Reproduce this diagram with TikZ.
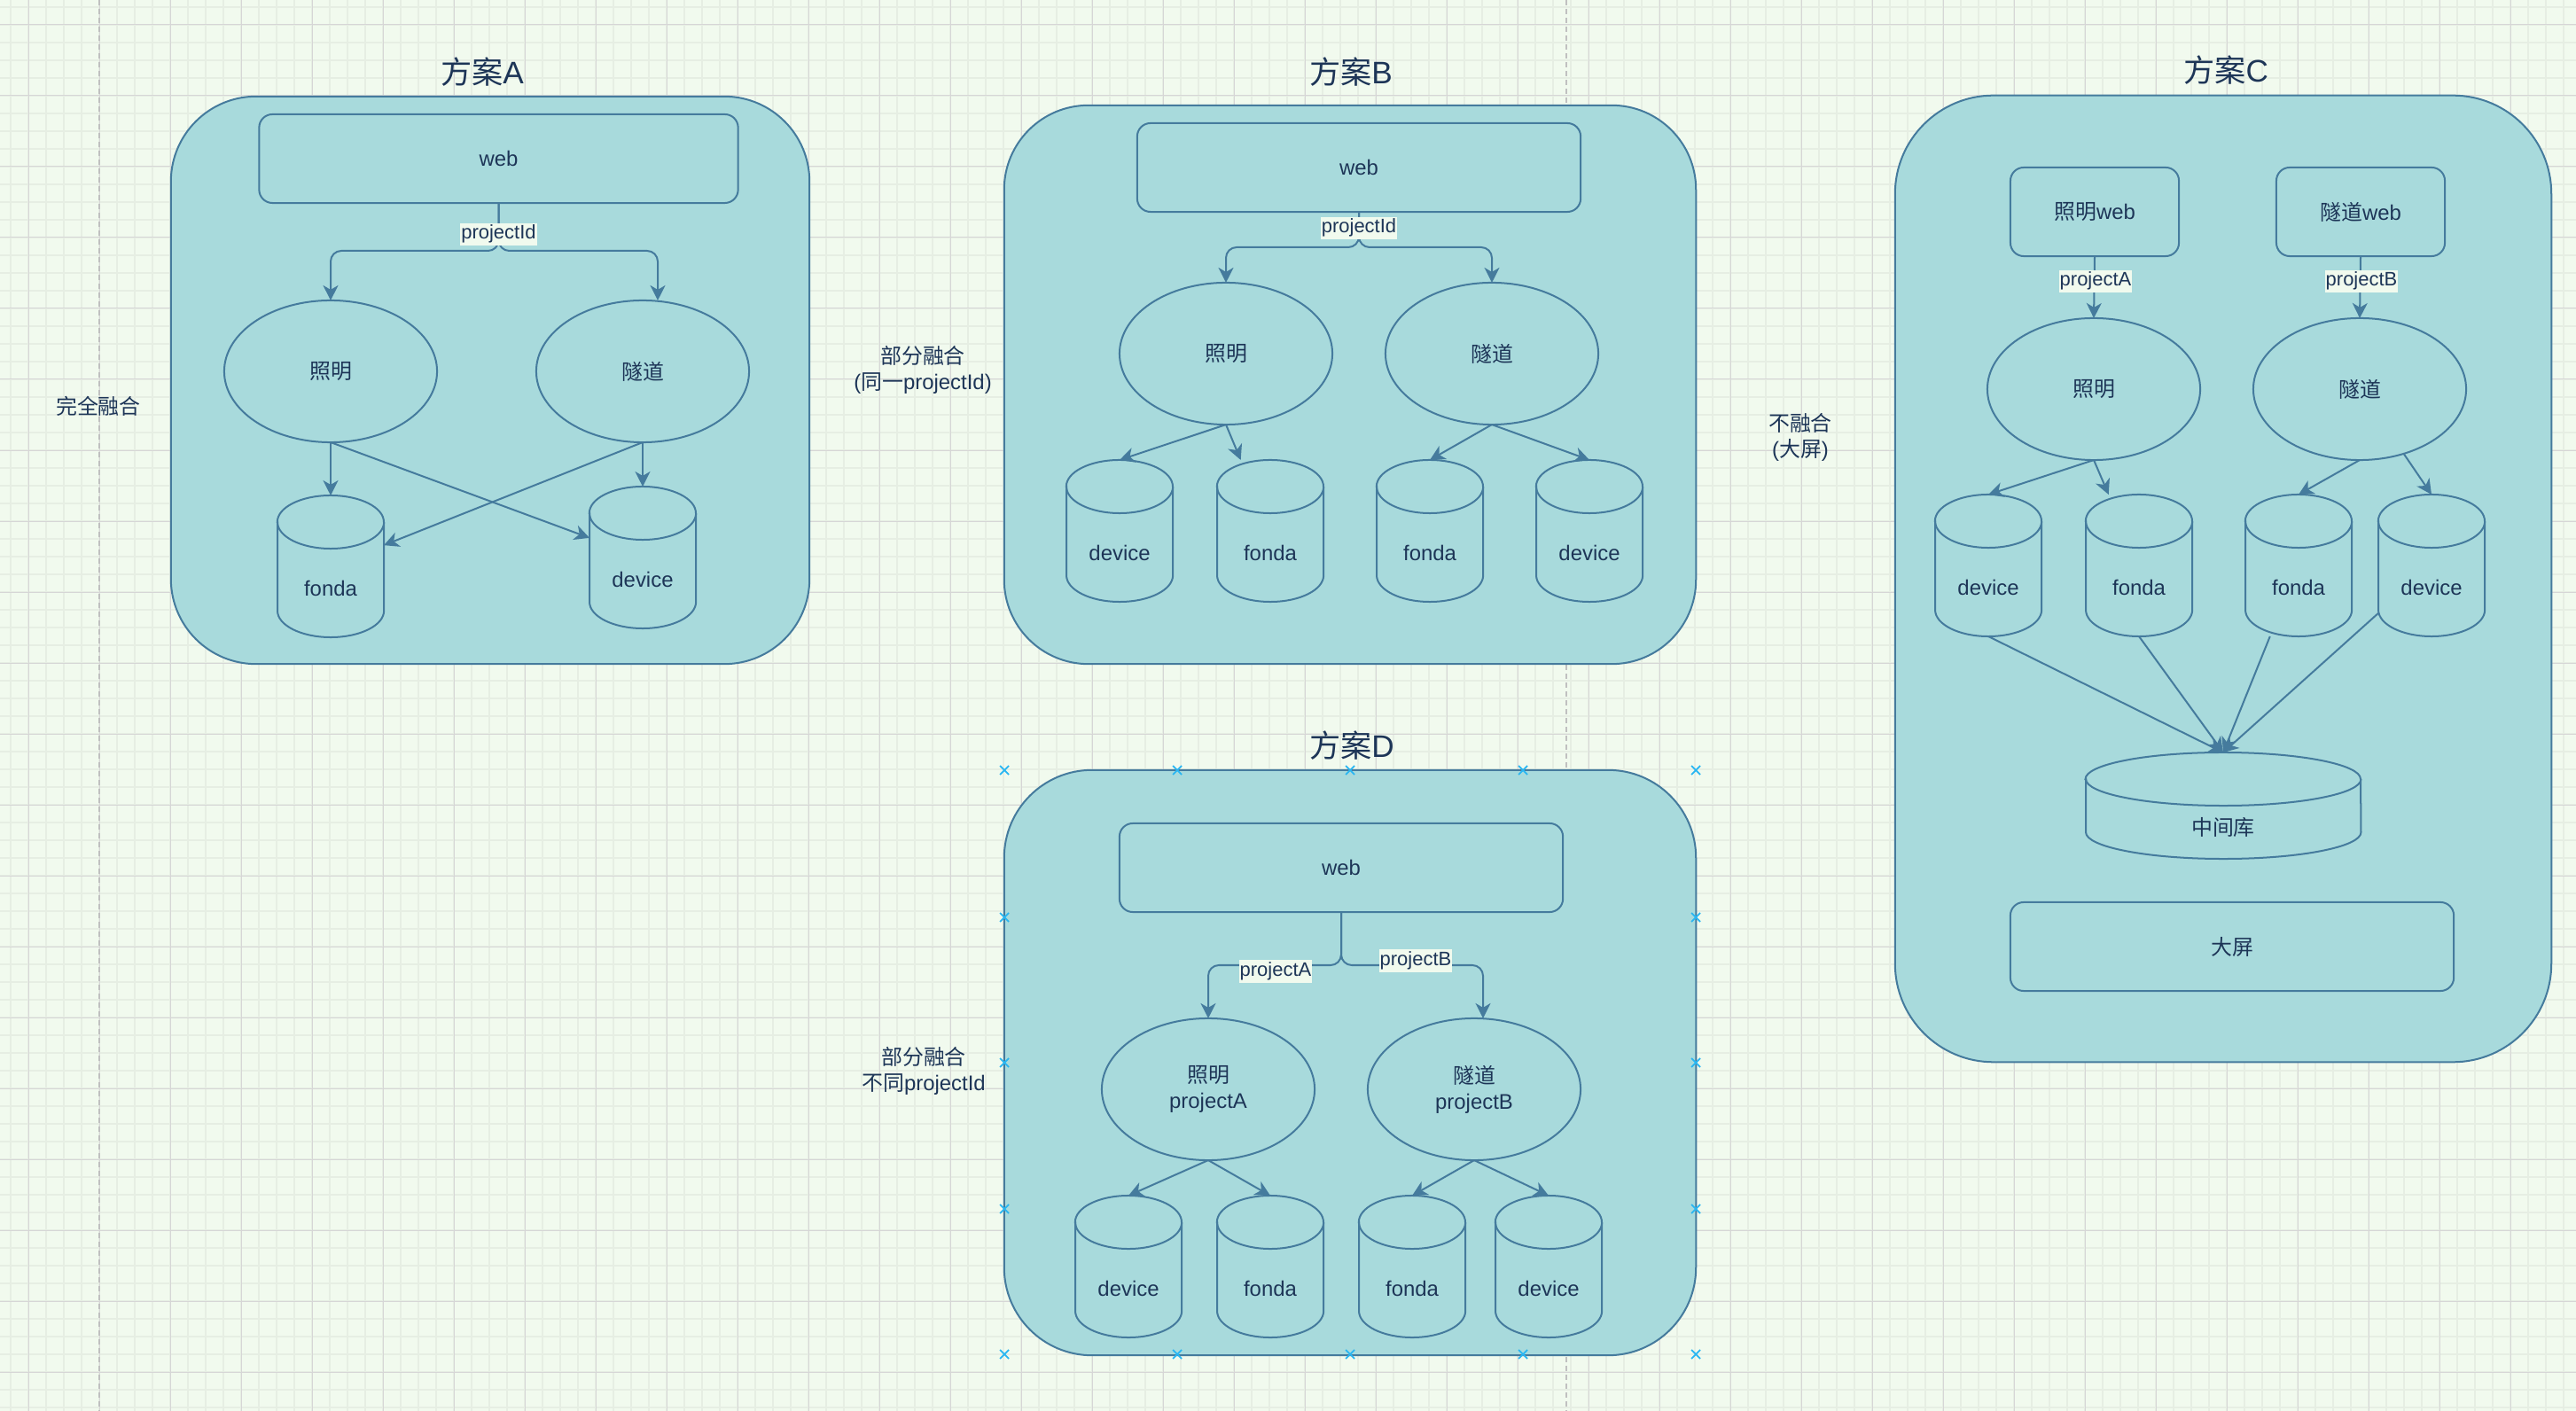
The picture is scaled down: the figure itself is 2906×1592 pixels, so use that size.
\documentclass[tikz,border=0pt]{standalone}
\usepackage{fontspec}
\setmainfont{Liberation Sans}
\newfontfamily\cjk{Noto Sans CJK SC}
\usetikzlibrary{shapes.geometric,arrows.meta,positioning}

\definecolor{bgc}{HTML}{F1FAEE}
\definecolor{fillc}{HTML}{A8DADC}
\definecolor{linec}{HTML}{457B9D}
\definecolor{textc}{HTML}{1D3557}
\definecolor{gridminor}{HTML}{E6EEE3}
\definecolor{gridmajor}{HTML}{D6D6D6}
\definecolor{guidec}{HTML}{C0C0C0}
\definecolor{handlec}{HTML}{29B6F2}

\newcommand{\zh}[1]{{\cjk #1}}
\newcommand{\bodyfont}{\fontsize{6.8pt}{8.3pt}\selectfont}
\newcommand{\lblfont}{\fontsize{6.25pt}{7.5pt}\selectfont}
\newcommand{\ttlfont}{\fontsize{10pt}{12pt}\selectfont}

\tikzset{
  panel/.style={draw=linec, fill=fillc, line width=0.57pt, inner sep=0pt, outer sep=0pt},
  box/.style={draw=linec, fill=fillc, line width=0.57pt, rounded corners=0.15cm, inner sep=0pt, outer sep=0pt, text=textc, font=\bodyfont},
  oval/.style={ellipse, draw=linec, fill=fillc, line width=0.57pt, minimum width=2.4cm, minimum height=1.6cm, inner sep=0pt, outer sep=0pt, text=textc, font=\bodyfont, align=center},
  db/.style={inner sep=0pt, outer sep=0pt, text=textc, font=\bodyfont, text height=0.67cm, text depth=0pt},
  dbline/.style={draw=linec, fill=fillc, line width=0.57pt},
  flow/.style={draw=linec, line width=0.57pt, -{Stealth[length=0.17cm,width=0.17cm,inset=0.05cm]}},
  branch/.style={flow, rounded corners=0.12cm},
  lbl/.style={fill=bgc, text=textc, font=\lblfont, inner xsep=0.01cm, inner ysep=0.01cm, text height=0.165cm, text depth=0.065cm},
  ttl/.style={text=textc, font=\ttlfont},
  note/.style={text=textc, font=\bodyfont, align=center},
}

% database: {name}{cx}{cy}{w}{h}{text}
\newcommand{\dbnode}[6]{%
  \filldraw[dbline] (#2-#4/2,#3-#5/2+30) -- (#2-#4/2,#3+#5/2-30)
    arc[start angle=180, end angle=360, x radius=#4*0.005cm, y radius=0.3cm]
    -- (#2+#4/2,#3-#5/2+30)
    arc[start angle=0, end angle=180, x radius=#4*0.005cm, y radius=0.3cm] -- cycle;
  \draw[dbline, fill=none] (#2-#4/2,#3-#5/2+30)
    arc[start angle=180, end angle=360, x radius=#4*0.005cm, y radius=0.3cm];
  \node[db, minimum width=#4*0.01cm, minimum height=#5*0.01cm] (#1) at (#2,#3) {#6};
}

\begin{document}
\begin{tikzpicture}[x=0.01cm, y=-0.01cm]
    \useasboundingbox (0,0) rectangle (2906,1592);
    \fill[bgc] (0,0) rectangle (2906,1592);

    % Grid
    \foreach \gx in {12,32,...,2892} \draw[gridminor, line width=0.5pt] (\gx,0) -- (\gx,1592);
    \foreach \gy in {8,28,...,1588} \draw[gridminor, line width=0.5pt] (0,\gy) -- (2906,\gy);
    \foreach \gx in {32,112,...,2832} \draw[gridmajor, line width=0.28pt] (\gx,0) -- (\gx,1592);
    \foreach \gy in {28,108,...,1548} \draw[gridmajor, line width=0.28pt] (0,\gy) -- (2906,\gy);
    \draw[guidec, line width=0.57pt, dash pattern=on 0.06cm off 0.04cm] (112,0) -- (112,1592);
    \draw[guidec, line width=0.57pt, dash pattern=on 0.06cm off 0.04cm] (1767,0) -- (1767,1592);

    % Panels
    \node[panel, minimum width=7.2cm, minimum height=6.4cm, rounded corners=0.96cm] (panelA) at (553,429) {};
    \node[panel, minimum width=7.8cm, minimum height=6.3cm, rounded corners=0.95cm] (panelB) at (1523,434) {};
    \node[panel, minimum width=7.4cm, minimum height=10.9cm, rounded corners=1.11cm] (panelC) at (2508,653) {};
    \node[panel, minimum width=7.8cm, minimum height=6.6cm, rounded corners=0.99cm] (panelD) at (1523,1199) {};

    \node[ttl] (ttlA) at (544,81) {\zh{方案}A};
    \node[ttl] (ttlB) at (1524,81) {\zh{方案}B};
    \node[ttl] (ttlC) at (2511,79) {\zh{方案}C};
    \node[ttl] (ttlD) at (1525,841) {\zh{方案}D};

    \node[note] (noteA) at (111,458) {\zh{完全融合}};
    \node[note] (noteB) at (1041,417) {\zh{部分融合}\\(\zh{同一}projectId)};
    \node[note] (noteC) at (2031,493) {\zh{不融合}\\(\zh{大屏})};
    \node[note] (noteD) at (1042,1208) {\zh{部分融合}\\\zh{不同}projectId};

    % Panel A
    \node[box, minimum width=5.4cm, minimum height=1cm] (webA) at (562.5,179) {web};
    \node[oval] (zmA) at (373,419) {\zh{照明}};
    \node[oval] (sdA) at (725,419) {\zh{隧道}};
    \dbnode{fondaA}{373}{639}{120}{160}{fonda}
    \dbnode{devA}{725}{629}{120}{160}{device}
    \coordinate (splitA) at (562.5,283);
    \draw[branch] (webA.south) -- (splitA) -| (zmA.north);
    \draw[branch] (webA.south) -- (splitA) -| ([xshift=0.17cm]sdA.north);
    \node[lbl] (pidA) at (562.5,265) {projectId};
    \draw[flow] (zmA.south) -- (fondaA.north);
    \draw[flow] (zmA.south) -- (devA);
    \draw[flow] (sdA.south) -- (devA.north);
    \draw[flow] (sdA.south) -- (fondaA);

    % Panel B
    \node[box, minimum width=5cm, minimum height=1cm] (webB) at (1533,189) {web};
    \node[oval] (zmB) at (1383,399) {\zh{照明}};
    \node[oval] (sdB) at (1683,399) {\zh{隧道}};
    \dbnode{devB1}{1263}{599}{120}{160}{device}
    \dbnode{fondaB1}{1433}{599}{120}{160}{fonda}
    \dbnode{fondaB2}{1613}{599}{120}{160}{fonda}
    \dbnode{devB2}{1793}{599}{120}{160}{device}
    \coordinate (splitB) at (1533,279);
    \draw[branch] (webB.south) -- (splitB) -| (zmB.north);
    \draw[branch] (webB.south) -- (splitB) -| (sdB.north);
    \node[lbl] (pidB) at (1533,258) {projectId};
    \draw[flow] (zmB.south) -- (devB1.north);
    \draw[flow] (zmB.south) -- (fondaB1);
    \draw[flow] (sdB.south) -- (fondaB2.north);
    \draw[flow] (sdB.south) -- (devB2.north);

    % Panel C
    \node[box, minimum width=1.9cm, minimum height=1cm] (zwebC) at (2363,239) {\zh{照明}web};
    \node[box, minimum width=1.9cm, minimum height=1cm] (swebC) at (2663,239) {\zh{隧道}web};
    \node[oval] (zmC) at (2362,439) {\zh{照明}};
    \node[oval] (sdC) at (2662,439) {\zh{隧道}};
    \dbnode{devC1}{2243}{638}{120}{160}{device}
    \dbnode{fondaC1}{2413}{638}{120}{160}{fonda}
    \dbnode{fondaC2}{2593}{638}{120}{160}{fonda}
    \dbnode{devC2}{2743}{638}{120}{160}{device}
    \dbnode{midC}{2508}{909}{310}{120}{\zh{中间库}}
    \node[box, minimum width=5cm, minimum height=1cm] (bigC) at (2518,1068) {\zh{大屏}};
    \draw[flow] (zwebC.south) -- (zmC.north);
    \draw[flow] (swebC.south) -- (sdC.north);
    \node[lbl] (pidCA) at (2364,318) {projectA};
    \node[lbl] (pidCB) at (2664,318) {projectB};
    \draw[flow] (zmC.south) -- (devC1.north);
    \draw[flow] (zmC.south) -- (fondaC1);
    \draw[flow] (sdC.south) -- (fondaC2.north);
    \draw[flow] (sdC) -- (devC2.north);
    \draw[flow] (devC1.south) -- (midC.north);
    \draw[flow] (fondaC1.south) -- (midC.north);
    \draw[flow] (fondaC2) -- (midC.north);
    \draw[flow] (devC2) -- (midC.north);

    % Panel D
    \node[box, minimum width=5cm, minimum height=1cm] (webD) at (1513,979) {web};
    \node[oval] (zmD) at (1363,1229) {\zh{照明}\\projectA};
    \node[oval] (sdD) at (1663,1229) {\zh{隧道}\\projectB};
    \dbnode{devD1}{1273}{1429}{120}{160}{device}
    \dbnode{fondaD1}{1433}{1429}{120}{160}{fonda}
    \dbnode{fondaD2}{1593}{1429}{120}{160}{fonda}
    \dbnode{devD2}{1747}{1429}{120}{160}{device}
    \coordinate (splitD) at (1513,1089);
    \draw[branch] (webD.south) -- (splitD) -| (zmD.north);
    \draw[branch] (webD.south) -- (splitD) -| ([xshift=0.1cm]sdD.north);
    \node[lbl] (pidDA) at (1439,1096) {projectA};
    \node[lbl] (pidDB) at (1597,1084) {projectB};
    \draw[flow] (zmD.south) -- (devD1.north);
    \draw[flow] (zmD.south) -- (fondaD1.north);
    \draw[flow] (sdD.south) -- (fondaD2.north);
    \draw[flow] (sdD.south) -- (devD2.north);

    % selection handles
    \foreach \hx/\hy in {1133/869,1328/869,1523/869,1718/869,1913/869,
                         1133/1528,1328/1528,1523/1528,1718/1528,1913/1528,
                         1133/1035,1133/1199,1133/1364,1913/1035,1913/1199,1913/1364}
        \draw[handlec, line width=0.5pt] (\hx-5,\hy-5) -- (\hx+5,\hy+5) (\hx-5,\hy+5) -- (\hx+5,\hy-5);
\end{tikzpicture}
\end{document}
